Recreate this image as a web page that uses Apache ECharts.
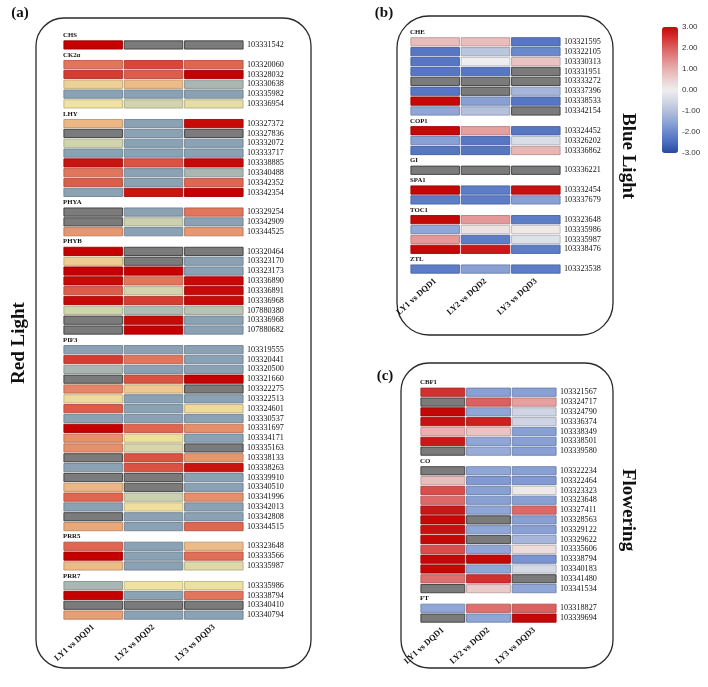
<!DOCTYPE html>
<html><head><meta charset="utf-8">
<script src="https://cdn.jsdelivr.net/npm/echarts@6/dist/echarts.min.js"></script>
<style>html,body{margin:0;padding:0;background:#fff}#c{width:708px;height:687px}</style>
</head><body><div id="c"></div>
<script>
// ---------- shared categories ----------
const columns = ['LY1 vs DQD1', 'LY2 vs DQD2', 'LY3 vs DQD3'];
const colorbarMin = -3, colorbarMax = 3, colorbarStep = 1;

// ---------- (a) Red Light ----------  (null = no value, drawn grey)
const CHS_ids = ['103331542'];
const CHS_vals = [[3, null, null]];
const CK2a_ids = ['103320060', '103328032', '103330638', '103335982', '103336954'];
const CK2a_vals = [[1.8, 2.3, 2.0], [2.4, 2.1, 3], [0.4, 0.9, -2], [-3, -3, -3], [0, -0.8, -0.3]];
const LHY_ids = ['103327372', '103327836', '103332072', '103333717', '103338885', '103340488', '103342352', '103342354'];
const LHY_vals = [[1.0, -3, 2.9], [null, -3, null], [-0.8, -3, -3], [-3, -3, -3], [2.8, 2.2, 2.9], [1.8, -3, -2], [2.1, -3, 2.0], [-3, 2.8, 3]];
const PHYA_ids = ['103329254', '103342909', '103344525'];
const PHYA_vals = [[null, -3, 1.8], [null, -1, -3], [1.4, -3, 1.4]];
const PHYB_ids = ['103320464', '103323170', '103323173', '103336890', '103336891', '103336968', '107880380', '103336968', '107880682'];
const PHYB_vals = [[3, null, null], [0.5, null, -3], [3, 3, -3], [2.9, 1.8, 2.9], [2.1, -0.8, 2.9], [2.9, 2.4, 2.9], [-0.8, -1.8, -1.5], [null, 2.9, -3], [null, 3, -3]];
const PIF3_ids = ['103319555', '103320441', '103320500', '103321660', '103322275', '103322513', '103324601', '103330537', '103331697', '103334171', '103335163', '103338133', '103338263', '103339910', '103340510', '103341996', '103342013', '103342808', '103344515'];
const PIF3_vals = [[-3, -3, -3], [2.4, 1.8, -3], [-2, -3, -3], [null, 2.2, 3], [1.6, 0.6, null], [0.2, -3, -3], [2.1, -3, 0.2], [-3, -3, -3], [3, 2.0, 1.5], [1.5, 0.1, -3], [1.5, -0.7, null], [null, 2.2, 1.4], [-3, 2.2, 2.8], [null, null, -3], [1.0, null, -3], [2.0, -1.0, 1.5], [-3, 0.1, -3], [null, -3, -3], [1.2, -3, 2.0]];
const PRR5_ids = ['103323648', '103333566', '103335987'];
const PRR5_vals = [[2.0, -3, 0.9], [3, -3, 1.9], [0.9, -3, -0.5]];
const PRR7_ids = ['103335986', '103338794', '103340410', '103340794'];
const PRR7_vals = [[-2, 0, -0.1], [3, -3, 1.8], [null, null, null], [1.3, -3, -3]];

// ---------- (b) Blue Light ----------
const CHE_ids = ['103321595', '103322105', '103330313', '103331951', '103333272', '103337396', '103338533', '103342154'];
const CHE_vals = [[0.8, 0.8, -2.3], [-2.3, -0.9, -2.0], [-2.3, 0, 0.7], [-2.3, -2.3, null], [null, null, null], [-2.3, null, -1.2], [3, -1.6, -2.3], [-1.5, -1.0, null]];
const COP1_ids = ['103324452', '103326202', '103336862'];
const COP1_vals = [[3, 1.2, -2.3], [-1.6, -2.3, -0.4], [-2.3, -2.3, 0.9]];
const GI_ids = ['103336221'];
const GI_vals = [[null, null, null]];
const SPA1_ids = ['103332454', '103337679'];
const SPA1_vals = [[3, -2.2, 2.9], [-2.2, -2.2, -1.6]];
const TOC1_ids = ['103323648', '103335986', '103335987', '103338476'];
const TOC1_vals = [[3, 1.3, -2.2], [-1.5, 0.2, 0.1], [1.3, -2.2, -0.3], [3, 2.8, -2.2]];
const ZTL_ids = ['103323538'];
const ZTL_vals = [[-2.2, -1.6, -2.2]];

// ---------- (c) Flowering ----------
const CBF1_ids = ['103321567', '103324717', '103324790', '103336374', '103338349', '103338501', '103339580'];
const CBF1_vals = [[2.5, -1.6, -1.6], [null, 2.0, 1.2], [3, -1.5, -0.6], [2.9, 2.7, -0.6], [1.0, 0.7, -1.6], [2.8, -1.5, -1.6], [null, -1.4, -1.6]];
const CO_ids = ['103322234', '103322464', '103323323', '103323648', '103327411', '103328563', '103329122', '103329622', '103335606', '103338794', '103340183', '103341480', '103341534'];
const CO_vals = [[null, -1.5, -1.6], [0.8, -1.7, -1.7], [2.2, -1.6, 0.1], [1.9, -1.6, -1.6], [2.8, -1.5, 1.9], [3, null, -1.6], [2.9, -1.5, -1.6], [3, null, -1.2], [2.2, -1.5, 0.3], [3, 3, -1.8], [3, -1.5, -0.5], [1.8, 2.5, null], [null, 0.6, -1.5]];
const FT_ids = ['103318827', '103339694'];
const FT_vals = [[-1.5, 1.8, 2.0], [null, -1.5, 3]];

// ---------- colour scales ----------
const redScale = ['#8ba1b4', '#a9b6b2', '#cbd0b0', '#f0e2a2', '#ecb784', '#e06652', '#c40000'];
const rwbScale = ['#2848a0', '#4a6cc0', '#6a88cc', '#90a6d6', '#b4c0dc', '#d4d9e6', '#eeeeee', '#ecd0d0', '#e8b0b0', '#e28888', '#dc6060', '#d43030', '#c40808'];
const naColor = '#7b7b7b';

const SERIF = '"Liberation Serif", "Times New Roman", serif';

function buildPanel(groups) {
  const keys = [], idLabels = [], groupLabels = [], vals = [], na = [];
  let r = 0;
  groups.forEach(([name, ids, values]) => {
    keys.push('r' + r); idLabels.push(''); groupLabels.push(name); r++;
    ids.forEach((id, i) => {
      keys.push('r' + r); idLabels.push(id); groupLabels.push('');
      values[i].forEach((v, j) => { if (v === null) na.push([j, r, 0]); else vals.push([j, r, v]); });
      r++;
    });
  });
  return { keys, idLabels, groupLabels, vals, na };
}

const A = buildPanel([['CHS', CHS_ids, CHS_vals], ['CK2α', CK2a_ids, CK2a_vals], ['LHY', LHY_ids, LHY_vals], ['PHYA', PHYA_ids, PHYA_vals], ['PHYB', PHYB_ids, PHYB_vals], ['PIF3', PIF3_ids, PIF3_vals], ['PRR5', PRR5_ids, PRR5_vals], ['PRR7', PRR7_ids, PRR7_vals]]);
const B = buildPanel([['CHE', CHE_ids, CHE_vals], ['COP1', COP1_ids, COP1_vals], ['GI', GI_ids, GI_vals], ['SPA1', SPA1_ids, SPA1_vals], ['TOC1', TOC1_ids, TOC1_vals], ['ZTL', ZTL_ids, ZTL_vals]]);
const C = buildPanel([['CBF1', CBF1_ids, CBF1_vals], ['CO', CO_ids, CO_vals], ['FT', FT_ids, FT_vals]]);

function xAx(gi) {
  return { type: 'category', gridIndex: gi, data: columns, position: 'bottom',
    axisLine: { show: false }, axisTick: { show: false }, splitLine: { show: false },
    axisLabel: { interval: 0, rotate: 42, margin: 6, fontFamily: SERIF, fontWeight: 'bold', fontSize: 8.5, color: '#111' } };
}
function idAx(gi, P) {
  return { type: 'category', gridIndex: gi, data: P.keys, inverse: true, position: 'right',
    axisLine: { show: false }, axisTick: { show: false }, splitLine: { show: false },
    axisLabel: { interval: 0, margin: 3, fontFamily: SERIF, fontSize: 8.2, color: '#111', formatter: (v, i) => P.idLabels[i] } };
}
function grpAx(gi, P) {
  return { type: 'category', gridIndex: gi, data: P.keys, inverse: true, position: 'left',
    axisLine: { show: false }, axisTick: { show: false }, splitLine: { show: false },
    axisLabel: { inside: true, interval: 0, margin: 0, align: 'left', fontFamily: SERIF, fontWeight: 'bold', fontSize: 6.8, color: '#111', formatter: (v, i) => P.groupLabels[i] } };
}
function darken(c, k) {
  const a = echarts.color.parse(c);
  if (!a) return c;
  return 'rgb(' + Math.round(a[0] * k) + ',' + Math.round(a[1] * k) + ',' + Math.round(a[2] * k) + ')';
}
function cellRenderer(fixedColor) {
  return function (params, api) {
    const p = api.coord([api.value(0), api.value(1)]);
    const s = api.size([1, 1]);
    const fill = fixedColor || api.visual('color');
    const stroke = fixedColor ? '#3c3c3c' : darken(fill, 0.8);
    return { type: 'rect',
      shape: { x: p[0] - s[0] / 2 + 0.9, y: p[1] - s[1] / 2 + 0.8, width: s[0] - 1.8, height: s[1] - 1.6 },
      style: { fill: fill, stroke: stroke, lineWidth: 0.9 } };
  };
}
function heat(xi, yi, data, na) {
  const common = { type: 'custom', xAxisIndex: xi, yAxisIndex: yi, silent: true, encode: { x: 0, y: 1 }, clip: false };
  return [
    Object.assign({}, common, { data: data, renderItem: cellRenderer(null) }),
    Object.assign({}, common, { data: na, renderItem: cellRenderer(naColor) })
  ];
}

const chart = echarts.init(document.getElementById('c'), null, { renderer: 'canvas' });
const box = (x, y, w, h, r) => ({ type: 'rect', shape: { x, y, width: w, height: h, r }, style: { fill: 'none', stroke: '#2a2a2a', lineWidth: 1.3 }, silent: true, z: -1 });
const txt = (t, x, y, size, rot) => ({ type: 'text', x, y, rotation: rot || 0, style: { text: t, font: 'bold ' + size + 'px ' + SERIF, fill: '#111', align: 'center', verticalAlign: 'middle' }, silent: true });

chart.setOption({
  animation: false,
  backgroundColor: '#fff',
  grid: [
    { left: 63, top: 30.2, width: 181, height: 589.8 },
    { left: 410, top: 27, width: 151, height: 247 },
    { left: 420, top: 377.5, width: 137, height: 245.5 },
    { left: 662, top: 27, width: 16, height: 126 }
  ],
  xAxis: [xAx(0), xAx(1), xAx(2), { type: 'value', gridIndex: 3, show: false }],
  yAxis: [grpAx(0, A), idAx(0, A), grpAx(1, B), idAx(1, B), grpAx(2, C), idAx(2, C),
    { type: 'value', gridIndex: 3, min: colorbarMin, max: colorbarMax, interval: colorbarStep, position: 'right',
      axisLine: { show: false }, axisTick: { show: false }, splitLine: { show: false },
      axisLabel: { margin: 4, fontFamily: '"Liberation Sans", Arial, sans-serif', fontSize: 8, color: '#333', formatter: v => v.toFixed(2) } }],
  visualMap: [
    { type: 'continuous', show: false, seriesIndex: 0, dimension: 2, min: -3, max: 3, inRange: { color: redScale } },
    { type: 'continuous', show: true, seriesIndex: [2, 4], dimension: 2, min: colorbarMin, max: colorbarMax, orient: 'vertical',
      left: 662, top: 27, itemWidth: 16, itemHeight: 126, padding: 0, calculable: false, text: null, hoverLink: false,
      inRange: { color: rwbScale } }
  ],
  series: [].concat(heat(0, 1, A.vals, A.na), heat(1, 3, B.vals, B.na), heat(2, 5, C.vals, C.na)),
  graphic: [
    box(36, 18, 275, 650, 28),
    box(397, 16, 216, 319, 32),
    box(401, 363, 212, 305, 28),
    txt('(a)', 20, 13, 15),
    txt('(b)', 384, 13, 15),
    txt('(c)', 385, 376, 15),
    txt('Red Light', 19, 343, 19, Math.PI / 2),
    txt('Blue Light', 628, 156, 19, -Math.PI / 2),
    txt('Flowering', 628, 510, 19, -Math.PI / 2)
  ]
});
</script></body></html>
